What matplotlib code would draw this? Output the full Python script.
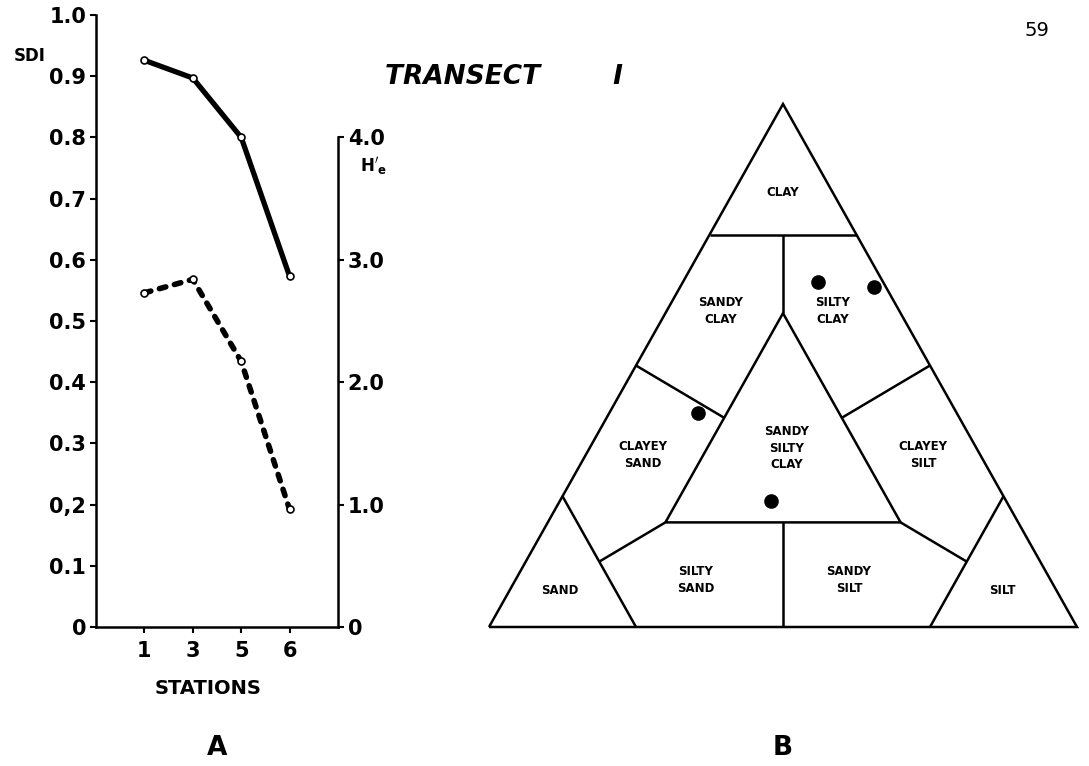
import matplotlib.pyplot as plt
import numpy as np

# Transect I: diversity by station
stations = ['1', '3', '5', '6']
sdi = [0.926, 0.897, 0.800, 0.573]
h_prime = [2.73, 2.84, 2.17, 0.96]

# sediment texture of the samples (percent)
sand = [11, 2, 44, 40]
silt = [23, 33, 15, 36]
clay = [66, 65, 41, 24]

sdi_ticks = [0, 0.1, 0.2, 0.3, 0.4, 0.5, 0.6, 0.7, 0.8, 0.9, 1.0]
sdi_labels = ['0', '0.1', '0,2', '0.3', '0.4', '0.5', '0.6', '0.7', '0.8', '0.9', '1.0']
h_ticks = [0, 1, 2, 3, 4]
h_labels = ['0', '1.0', '2.0', '3.0', '4.0']

W, H = 1089, 766
fig = plt.figure(figsize=(W / 100, H / 100), dpi=100)

# pixel-space axes for the triangle and loose lettering
ax_b = fig.add_axes([0, 0, 1, 1])
ax_b.set_xlim(0, W)
ax_b.set_ylim(H, 0)
ax_b.axis('off')

# ---- A: SDI and H' by station ----
ax = fig.add_axes([96 / W, (H - 627) / H, 242 / W, 612 / H])
ax.patch.set_visible(False)
x = np.arange(len(stations))

ax.plot(x, sdi, color='black', lw=3.8, solid_capstyle='round', zorder=2)
ax.plot(x, sdi, 'o', ms=5, mfc='white', mec='black', mew=1.2, zorder=3)
ax.set_xlim(-1, 4)
ax.set_ylim(0, 1.0)
ax.set_xticks(x)
ax.set_xticklabels(stations)
ax.set_yticks(sdi_ticks)
ax.set_yticklabels(sdi_labels)
for s in ['top', 'right']:
    ax.spines[s].set_visible(False)
for s in ['left', 'bottom']:
    ax.spines[s].set_linewidth(1.8)
ax.tick_params(axis='both', direction='out', length=4, width=1.5,
               labelsize=15, pad=3)
ax.tick_params(axis='x', pad=6)
for lab in ax.get_xticklabels() + ax.get_yticklabels():
    lab.set_fontweight('bold')
ax.set_xlabel('STATIONS', fontsize=14, fontweight='bold')
ax.xaxis.set_label_coords(0.463, -0.085)

ax2 = ax.twinx()
ax2.plot(x, h_prime, color='black', lw=4.0, dashes=(1.2, 1.6),
         dash_capstyle='round', zorder=2)
ax2.plot(x, h_prime, 'o', ms=5, mfc='white', mec='black', mew=1.2, zorder=3)
ax2.set_ylim(0, 5)
ax2.set_yticks(h_ticks)
ax2.set_yticklabels(h_labels)
for s in ['top', 'left', 'bottom']:
    ax2.spines[s].set_visible(False)
ax2.spines['right'].set_bounds(0, 4)
ax2.spines['right'].set_linewidth(1.8)
ax2.tick_params(axis='y', direction='out', length=4, width=1.5,
                labelsize=15, pad=3)
for lab in ax2.get_yticklabels():
    lab.set_fontweight('bold')

ax_b.text(30, 56, 'SDI', fontsize=12, fontweight='bold', ha='center', va='center')
ax_b.text(360, 166, r"$\mathbf{H'_e}$", fontsize=12, ha='left', va='center')
ax_b.text(217, 748, 'A', fontsize=19, fontweight='bold', ha='center', va='center')
ax_b.text(783, 748, 'B', fontsize=19, fontweight='bold', ha='center', va='center')
ax_b.text(1037, 31, '59', fontsize=14, ha='center', va='center')
ax_b.text(385, 77, 'TRANSECT        I', fontsize=19, fontweight='bold',
          style='italic', ha='left', va='center')

# ---- B: sand-silt-clay triangle ----
corner_sand = np.array([489.0, 627.0])
corner_silt = np.array([1077.0, 627.0])
corner_clay = np.array([783.0, 104.0])


def tern(sa, si, cl):
    tot = sa + si + cl
    p = (sa * corner_sand + si * corner_silt + cl * corner_clay) / tot
    return p[0], p[1]


boundaries = [
    [(1, 0, 0), (0, 1, 0), (0, 0, 1), (1, 0, 0)],
    [(0.25, 0, 0.75), (0, 0.25, 0.75)],
    [(0.75, 0, 0.25), (0.75, 0.25, 0)],
    [(0, 0.75, 0.25), (0.25, 0.75, 0)],
    [(0.6, 0.2, 0.2), (0.2, 0.6, 0.2), (0.2, 0.2, 0.6), (0.6, 0.2, 0.2)],
    [(0.125, 0.125, 0.75), (0.2, 0.2, 0.6)],
    [(0.4, 0.4, 0.2), (0.5, 0.5, 0)],
    [(0.5, 0, 0.5), (0.4, 0.2, 0.4)],
    [(0, 0.5, 0.5), (0.2, 0.4, 0.4)],
    [(0.75, 0.125, 0.125), (0.6, 0.2, 0.2)],
    [(0.125, 0.75, 0.125), (0.2, 0.6, 0.2)],
]
for seg in boundaries:
    pts = np.array([tern(*c) for c in seg])
    ax_b.plot(pts[:, 0], pts[:, 1], color='black', lw=1.8,
              solid_joinstyle='miter', solid_capstyle='butt')

regions = [
    (783, 193, 'CLAY'),
    (721, 311, 'SANDY\nCLAY'),
    (833, 311, 'SILTY\nCLAY'),
    (643, 455, 'CLAYEY\nSAND'),
    (787, 448, 'SANDY\nSILTY\nCLAY'),
    (923, 455, 'CLAYEY\nSILT'),
    (560, 590, 'SAND'),
    (696, 580, 'SILTY\nSAND'),
    (849, 580, 'SANDY\nSILT'),
    (1002, 590, 'SILT'),
]
for px, py, txt in regions:
    ax_b.text(px, py, txt, fontsize=8.5, fontweight='bold', ha='center',
              va='center', linespacing=1.35)

sx, sy = zip(*[tern(a, b, c) for a, b, c in zip(sand, silt, clay)])
ax_b.plot(sx, sy, 'o', color='black', ms=9.5, ls='none')

fig.savefig('out.png', dpi=100)
